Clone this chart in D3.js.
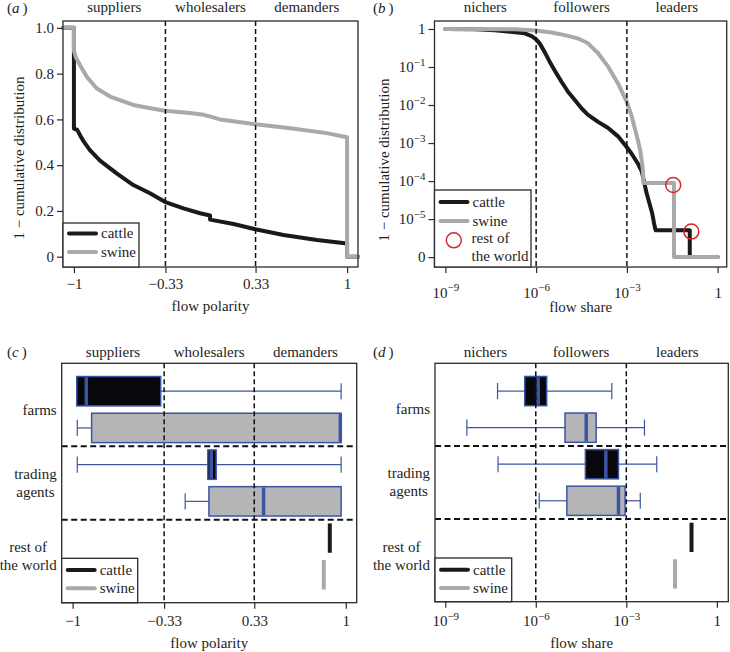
<!DOCTYPE html>
<html lang="en">
<head>
<meta charset="UTF-8">
<title>Flow polarity and flow share</title>
<script src="https://d3js.org/d3.v7.min.js"></script>
<style>
  body { margin: 0; background: #fff; }
  svg text { font-family: "Liberation Serif", "DejaVu Serif", serif; font-size: 15px; fill: #1e1e1e; }
</style>
</head>
<body>
<svg></svg>
<script>
// ---- values ----
const species = ["cattle", "swine"];
const polarityTicks = [-1, -0.33, 0.33, 1];
const polarityTickLabels = ["\u22121", "\u22120.33", "0.33", "1"];
const polarityCuts = [-0.33, 0.33];
const polarityRoles = ["suppliers", "wholesalers", "demanders"];
const shareTicks = [1e-9, 1e-6, 1e-3, 1];
const shareTickLabels = [["10", "\u22129"], ["10", "\u22126"], ["10", "\u22123"], ["1", null]];
const shareCuts = [1e-6, 1e-3];
const shareRoles = ["nichers", "followers", "leaders"];
const survivalTicks = [0, 0.2, 0.4, 0.6, 0.8, 1];
const survivalTickLabels = ["0", "0.2", "0.4", "0.6", "0.8", "1.0"];
const survivalLogTicks = [1, 1e-1, 1e-2, 1e-3, 1e-4, 1e-5, 0];
const survivalLogLabels = [["1", null], ["10", "\u22121"], ["10", "\u22122"], ["10", "\u22123"], ["10", "\u22124"], ["10", "\u22125"], ["0", null]];
const nodeGroups = [["farms"], ["trading", "agents"], ["rest of", "the world"]];

// (a) 1 - cumulative distribution of flow polarity: [polarity, share above]
const cattlePolarity = [[-1.08, 1], [-1, 1], [-1, 0.56], [-0.976, 0.554], [-0.95, 0.525], [-0.93, 0.505],
  [-0.883, 0.466], [-0.809, 0.42], [-0.687, 0.364], [-0.565, 0.313], [-0.443, 0.277], [-0.335, 0.24],
  [-0.198, 0.211], [-0.076, 0.19], [-0.003, 0.18], [-0.003, 0.162], [0.169, 0.143], [0.328, 0.12],
  [0.535, 0.095], [0.78, 0.073], [1, 0.058], [1, 0], [1.08, 0]];
const swinePolarity = [[-1.08, 1], [-1, 1], [-1, 0.9], [-0.985, 0.87], [-0.956, 0.838], [-0.907, 0.787],
  [-0.834, 0.736], [-0.736, 0.70], [-0.565, 0.663], [-0.45, 0.65], [-0.335, 0.638], [-0.15, 0.628],
  [-0.05, 0.62], [0, 0.612], [0.07, 0.6], [0.33, 0.579], [0.6, 0.56], [0.85, 0.54], [1, 0.522],
  [1, 0], [1.08, 0]];

// (b) 1 - cumulative distribution of flow share: [share, share above]
const cattleShare = [[1e-9, 1], [1e-8, 0.99], [4.3e-8, 0.93], [4.2e-7, 0.77], [7.1e-7, 0.65], [9.8e-7, 0.54],
  [1.3e-6, 0.42], [1.9e-6, 0.25], [2.8e-6, 0.138], [4.2e-6, 0.079], [6.9e-6, 0.041], [1.15e-5, 0.022],
  [1.9e-5, 0.0135], [3.2e-5, 8.1e-3], [5.2e-5, 5.5e-3], [1.12e-4, 3.6e-3], [2.4e-4, 2.5e-3],
  [5.1e-4, 1.5e-3], [9.8e-4, 7.9e-4], [1.4e-3, 5.4e-4], [2.3e-3, 2.9e-4], [3.1e-3, 1.8e-4],
  [3.7e-3, 9.5e-5], [4.5e-3, 4.8e-5], [5.8e-3, 2.3e-5], [6.9e-3, 1.4e-5], [7.9e-3, 7.8e-6],
  [8.9e-3, 5.1e-6], [0.12, 5.1e-6], [0.12, 0], [1, 0]];
const swineShare = [[1e-9, 1], [1.95e-7, 0.98], [9.8e-7, 0.91], [3.2e-6, 0.81], [8.9e-6, 0.69],
  [2.45e-5, 0.56], [5.2e-5, 0.42], [1.12e-4, 0.23], [2.4e-4, 0.102], [5.1e-4, 0.037], [9.8e-4, 0.0123],
  [1.4e-3, 5.5e-3], [2.1e-3, 1.6e-3], [2.75e-3, 6.6e-4], [3.2e-3, 2.8e-4], [3.4e-3, 1.8e-4],
  [3.5e-3, 8.9e-5], [0.036, 8.9e-5], [0.036, 0], [1, 0]];
const restOfWorldShare = [[0.034, 7.9e-5], [0.135, 4.7e-6]];

// (c), (d) box stats per node group: [whisker low, q1, median, q3, whisker high]
const cattlePolarityBoxes = [[-0.97, -0.97, -0.9, -0.355, 0.966], [-0.966, -0.01, 0.015, 0.051, 0.966], [0.883, 0.883, 0.883, 0.883, 0.883]];
const swinePolarityBoxes = [[-0.966, -0.861, 0.96, 0.966, 0.966], [-0.176, -0.002, 0.398, 0.966, 0.966], [0.839, 0.839, 0.839, 0.839, 0.839]];
const cattleShareBoxes = [[5.4e-8, 4.3e-7, 1.2e-6, 2.3e-6, 3.3e-4], [5.6e-8, 4.4e-5, 2.1e-4, 5.5e-4, 0.0102], [0.145, 0.145, 0.145, 0.145, 0.145]];
const swineShareBoxes = [[5.2e-9, 9.3e-6, 4.7e-5, 1.0e-4, 4.0e-3], [1.3e-6, 1.07e-5, 5.5e-4, 9.1e-4, 2.9e-3], [0.041, 0.041, 0.041, 0.041, 0.041]];

// ---- drawing ----
const svg = d3.select("svg").attr("width", 730).attr("height", 652);

const ink = "#1e1e1e", blue = "#3a55a4", red = "#d8262a";
const lineColor = ["#1a1a1a", "#a9a9a9"];
const boxFill = ["#08080c", "#b5b5b8"];
const zeroAt = 1e-6;   // where "0" sits on the log axis of (b)

// [left, top, right, bottom]
const boxA = [63, 21, 358, 267];
const boxB = [434.5, 21, 726.7, 267];
const boxC = [61.7, 363.3, 356.7, 602.7];
const boxD = [435, 363.3, 728.3, 601.7];

const xA = d3.scaleLinear().domain([-1.08, 1.08]).range([boxA[0], boxA[2]]);
const yA = d3.scaleLinear().domain([-0.045, 1.03]).range([boxA[3], boxA[1]]);
const xB = d3.scaleLog().domain([10 ** -9.36, 10 ** 0.3]).range([boxB[0], boxB[2]]);
const yB = d3.scaleLog().domain([10 ** -6.26, 10 ** 0.21]).range([boxB[3], boxB[1]]);
const xC = d3.scaleLinear().domain([-1.08, 1.08]).range([boxC[0], boxC[2]]);
const yC = d3.scaleLinear().domain([0.24, 6.76]).range([boxC[1], boxC[3]]);
const xD = d3.scaleLog().domain([10 ** -9.34, 10 ** 0.38]).range([boxD[0], boxD[2]]);
const yD = d3.scaleLinear().domain([0.24, 6.76]).range([boxD[1], boxD[3]]);

function frame(b) {
  svg.append("rect").attr("x", b[0]).attr("y", b[1])
    .attr("width", b[2] - b[0]).attr("height", b[3] - b[1])
    .attr("fill", "none").attr("stroke", "#2a2a2a").attr("stroke-width", 1.3);
}

function supText(sel, parts) {
  sel.text(null);
  sel.append("tspan").text(parts[0]);
  if (parts[1]) sel.append("tspan").attr("dy", "-0.6em").attr("font-size", "11px").text(parts[1]);
}

function tag(x, y, letter) {
  const t = svg.append("text").attr("x", x).attr("y", y);
  t.append("tspan").text("(");
  t.append("tspan").attr("font-style", "italic").text(letter + "\u2009");
  t.append("tspan").text(")");
}

function roleHeaders(x, b, cuts, names, base) {
  const edges = [b[0], x(cuts[0]), x(cuts[1]), b[2]];
  names.forEach((n, i) => {
    svg.append("text").attr("x", (edges[i] + edges[i + 1]) / 2).attr("y", base)
      .attr("text-anchor", "middle").text(n);
  });
}

function cutLines(x, b, cuts) {
  svg.append("g").selectAll("line").data(cuts).join("line")
    .attr("x1", d => x(d)).attr("x2", d => x(d)).attr("y1", b[1]).attr("y2", b[3])
    .attr("stroke", "#111").attr("stroke-width", 1.5).attr("stroke-dasharray", "5,3");
}

function xAxis(x, b, ticks, labels, base, sup) {
  const g = svg.append("g").attr("transform", `translate(0,${b[3]})`)
    .call(d3.axisBottom(x).tickValues(ticks).tickSize(6).tickFormat((d, i) => sup ? labels[i][0] : labels[i]));
  g.select(".domain").remove();
  g.selectAll("line").attr("stroke", "#2a2a2a").attr("stroke-width", 1.2);
  g.selectAll("text").attr("dy", null).attr("y", base - b[3])
    .each(function (d, i) { if (sup) supText(d3.select(this), labels[i]); });
}

function yAxis(y, b, ticks, labels, sup) {
  const g = svg.append("g").attr("transform", `translate(${b[0]},0)`)
    .call(d3.axisLeft(y).tickValues(ticks).tickSize(6).tickFormat((d, i) => sup ? labels[i][0] : labels[i]));
  g.select(".domain").remove();
  g.selectAll("line").attr("stroke", "#2a2a2a").attr("stroke-width", 1.2);
  g.selectAll("text").each(function (d, i) { if (sup) supText(d3.select(this), labels[i]); });
}

function title(b, text, base) {
  svg.append("text").attr("x", (b[0] + b[2]) / 2).attr("y", base).attr("text-anchor", "middle").text(text);
}

function yTitle(x, yc, text) {
  svg.append("text").attr("transform", `translate(${x},${yc}) rotate(-90)`)
    .attr("text-anchor", "middle").text(text);
}

function curve(x, y, pts, color) {
  const line = d3.line().x(d => x(d[0])).y(d => y(d[1]));
  svg.append("path").datum(pts).attr("d", line).attr("fill", "none")
    .attr("stroke", color).attr("stroke-width", 4).attr("stroke-linejoin", "round").attr("stroke-linecap", "round");
}

function legend(b, w, h, rows, circleRow) {
  const x0 = b[0], y0 = b[3] - h;
  svg.append("rect").attr("x", x0).attr("y", y0).attr("width", w).attr("height", h)
    .attr("fill", "#fff").attr("stroke", "#2a2a2a").attr("stroke-width", 1.3);
  species.forEach((s, i) => {
    const yy = b[3] - rows[i];
    svg.append("line").attr("x1", x0 + 6).attr("x2", x0 + 33).attr("y1", yy).attr("y2", yy)
      .attr("stroke", lineColor[i]).attr("stroke-width", 4).attr("stroke-linecap", "round");
    svg.append("text").attr("x", x0 + 38).attr("y", yy).attr("dy", "0.33em").text(s);
  });
  if (circleRow) {
    svg.append("circle").attr("cx", x0 + 19.3).attr("cy", b[3] - circleRow[0]).attr("r", 7.5)
      .attr("fill", "none").attr("stroke", red).attr("stroke-width", 1.5);
    ["rest of", "the world"].forEach((t, i) => {
      svg.append("text").attr("x", x0 + 37).attr("y", b[3] - circleRow[1 + i]).attr("dy", "0.33em").text(t);
    });
  }
}

function groupLabels(y, b) {
  nodeGroups.forEach((lines, g) => {
    const yc = y(g * 2 + 1.5);
    const texts = lines.map((t, i) => svg.append("text")
      .attr("y", yc + (i - (lines.length - 1) / 2) * 18).attr("dy", "0.33em")
      .attr("text-anchor", "middle").text(t));
    const wmax = d3.max(texts, t => t.node().getComputedTextLength());
    texts.forEach(t => t.attr("x", b[0] - 5 - wmax / 2));
  });
}

function boxes(x, y, stats) {
  stats.forEach((groups, s) => {
    groups.forEach((st, g) => {
      const p = g * 2 + s + 1;
      const [lo, q1, med, q3, hi] = st;
      if (q1 === q3) {
        svg.append("line").attr("x1", x(med)).attr("x2", x(med)).attr("y1", y(p - 0.4)).attr("y2", y(p + 0.4))
          .attr("stroke", lineColor[s]).attr("stroke-width", 4);
        return;
      }
      const wg = svg.append("g").attr("stroke", blue).attr("stroke-width", 1.2);
      wg.append("line").attr("x1", x(lo)).attr("x2", x(q1)).attr("y1", y(p)).attr("y2", y(p));
      wg.append("line").attr("x1", x(q3)).attr("x2", x(hi)).attr("y1", y(p)).attr("y2", y(p));
      if (lo < q1) wg.append("line").attr("x1", x(lo)).attr("x2", x(lo)).attr("y1", y(p - 0.22)).attr("y2", y(p + 0.22));
      if (hi > q3) wg.append("line").attr("x1", x(hi)).attr("x2", x(hi)).attr("y1", y(p - 0.22)).attr("y2", y(p + 0.22));
      svg.append("rect").attr("x", x(q1)).attr("y", y(p - 0.4))
        .attr("width", x(q3) - x(q1)).attr("height", y(p + 0.4) - y(p - 0.4))
        .attr("fill", boxFill[s]).attr("stroke", blue).attr("stroke-width", 1.5);
      svg.append("line").attr("x1", x(med)).attr("x2", x(med)).attr("y1", y(p - 0.4) + 0.8).attr("y2", y(p + 0.4) - 0.8)
        .attr("stroke", blue).attr("stroke-width", 3.5);
    });
  });
}

function separators(y, b) {
  svg.append("g").selectAll("line").data([2.5, 4.5]).join("line")
    .attr("x1", b[0]).attr("x2", b[2]).attr("y1", d => y(d)).attr("y2", d => y(d))
    .attr("stroke", "#111").attr("stroke-width", 2).attr("stroke-dasharray", "6,3.5");
}

// (a)
tag(7, 12.5, "a");
roleHeaders(xA, boxA, polarityCuts, polarityRoles, 11.5);
curve(xA, yA, cattlePolarity, lineColor[0]);
curve(xA, yA, swinePolarity, lineColor[1]);
cutLines(xA, boxA, polarityCuts);
frame(boxA);
xAxis(xA, boxA, polarityTicks, polarityTickLabels, 289, false);
yAxis(yA, boxA, survivalTicks, survivalTickLabels, false);
title(boxA, "flow polarity", 311);
yTitle(24, 158, "1 \u2212 cumulative distribution");
legend(boxA, 76, 44, [33.5, 15]);

// (b)
const yb = v => yB(v === 0 ? zeroAt : v);
tag(373, 12.5, "b");
roleHeaders(xB, boxB, shareCuts, shareRoles, 11.5);
curve(xB, yb, cattleShare, lineColor[0]);
curve(xB, yb, swineShare, lineColor[1]);
cutLines(xB, boxB, shareCuts);
svg.append("g").selectAll("circle").data(restOfWorldShare).join("circle")
  .attr("cx", d => xB(d[0])).attr("cy", d => yb(d[1])).attr("r", 7.5)
  .attr("fill", "none").attr("stroke", red).attr("stroke-width", 1.5);
frame(boxB);
xAxis(xB, boxB, shareTicks, shareTickLabels, 297.5, true);
yAxis(yB, boxB, survivalLogTicks.map(v => v === 0 ? zeroAt : v), survivalLogLabels, true);
title(boxB, "flow share", 311.5);
yTitle(389, 160, "1 \u2212 cumulative distribution");
legend(boxB, 96.5, 77, [65, 46], [26.7, 28.7, 10.7]);

// (c)
tag(7, 357, "c");
roleHeaders(xC, boxC, polarityCuts, polarityRoles, 356.7);
boxes(xC, yC, [cattlePolarityBoxes, swinePolarityBoxes]);
cutLines(xC, boxC, polarityCuts);
separators(yC, boxC);
frame(boxC);
xAxis(xC, boxC, polarityTicks, polarityTickLabels, 626.5, false);
title(boxC, "flow polarity", 648.3);
groupLabels(yC, boxC);
legend(boxC, 76, 44.4, [32.7, 14.4]);

// (d)
tag(373, 357, "d");
roleHeaders(xD, boxD, shareCuts, shareRoles, 356.7);
boxes(xD, yD, [cattleShareBoxes, swineShareBoxes]);
cutLines(xD, boxD, shareCuts);
separators(yD, boxD);
frame(boxD);
xAxis(xD, boxD, shareTicks, shareTickLabels, 626.5, true);
title(boxD, "flow share", 648.3);
groupLabels(yD, boxD);
legend(boxD, 76.7, 43.7, [32, 13.7]);
</script>
</body>
</html>
